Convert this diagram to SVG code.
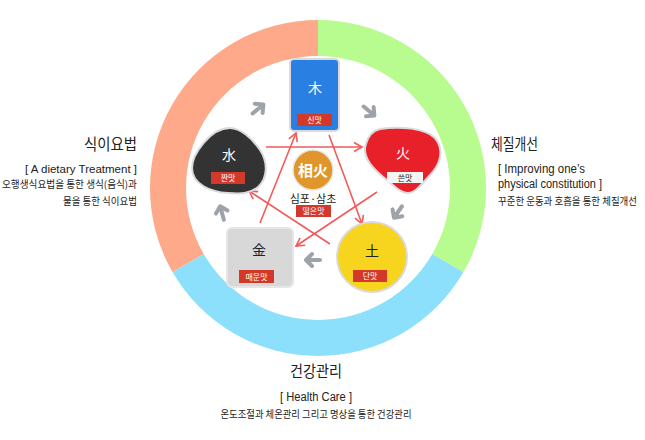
<svg xmlns="http://www.w3.org/2000/svg" width="645" height="440" viewBox="0 0 645 440">
<style>
.kr{font-family:"Noto Sans CJK KR","Liberation Sans",sans-serif;fill:#222}
.en{font-family:"Liberation Sans","Noto Sans CJK KR",sans-serif;fill:#222}
.nl{font-family:"Noto Sans CJK KR",sans-serif;font-size:14px;text-anchor:middle}
.tag{fill:#D2392B}
.tt{font-family:"Noto Sans CJK KR",sans-serif;font-size:8px;fill:#fff;text-anchor:middle}
.rl{stroke:#F25A5A;stroke-width:1.6;fill:none;marker-end:url(#rh)}
.ga{stroke:#9EA3AA;stroke-width:4;fill:none;stroke-linecap:round;stroke-linejoin:round}
.bd{stroke:#DADADA;stroke-width:2}
</style>
<defs>
<marker id="rh" markerWidth="12" markerHeight="12" refX="10" refY="6" orient="auto" markerUnits="userSpaceOnUse">
<polyline points="2,1.5 10,6 2,10.5" fill="none" stroke="#F25A5A" stroke-width="1.6"/>
</marker>
<path id="garr" d="M-7,0 L7,0 M1,-6 L7,0 L1,6"/>
</defs>
<rect width="645" height="440" fill="#fff"/>
<g id="ring">
<path d="M463.5,272 A168,168 0 0 1 172.5,272 L203.7,254 A132,132 0 0 0 432.3,254 Z" fill="#8CE0FB"/>
<path d="M172.5,272 A168,168 0 0 1 318,20 L318,56 A132,132 0 0 0 203.7,254 Z" fill="#FFA98B"/>
<path d="M318,20 A168,168 0 0 1 463.5,272 L432.3,254 A132,132 0 0 0 318,56 Z" fill="#B8FB8E"/>
</g>
<g id="connectors">
<line class="rl" x1="266" y1="147" x2="362" y2="147"/>
<line class="rl" x1="329" y1="135" x2="362" y2="224"/>
<line class="rl" x1="330" y1="244" x2="249" y2="191"/>
<line class="rl" x1="377" y1="192" x2="296" y2="246"/>
<line class="rl" x1="260" y1="223" x2="296" y2="133"/>
<use href="#garr" class="ga" transform="translate(258,109) rotate(-40)"/>
<use href="#garr" class="ga" transform="translate(369,111) rotate(40)"/>
<use href="#garr" class="ga" transform="translate(398,212) rotate(125)"/>
<use href="#garr" class="ga" transform="translate(313,260) rotate(180)"/>
<use href="#garr" class="ga" transform="translate(222,213) rotate(-105)"/>
</g>
<g id="wood">
<rect class="bd" x="290" y="59" width="49" height="72" rx="4" fill="#2A80E2"/>
<text class="nl" x="315" y="93" fill="#fff">木</text>
<rect class="tag" x="297" y="114" width="35" height="12"/>
<text class="tt" x="314.5" y="123">신맛</text>
</g>
<g id="fire">
<path class="bd" d="M380,129 C400,126 425,128 435,138 C445,150 440,165 430,175 C422,184 415,193 408,193 C400,193 392,184 382,176 C370,166 362,155 366,144 C368,136 372,131 380,129 Z" fill="#E8202A"/>
<text class="nl" x="403" y="158" fill="#fff">火</text>
<rect x="387" y="172" width="36" height="11" fill="#F4F4F4"/>
<text class="tt" x="405" y="180.5" style="fill:#222">쓴맛</text>
</g>
<g id="water">
<path class="bd" d="M230,128 C240,128 252,138 260,150 C268,162 268,178 258,187 C250,194 240,194 228,193 C212,192 192,185 192,168 C192,155 210,128 230,128 Z" fill="#333333"/>
<text class="nl" x="229" y="160" fill="#fff">水</text>
<rect class="tag" x="211" y="172" width="34" height="12"/>
<text class="tt" x="228" y="181">짠맛</text>
</g>
<g id="earth">
<circle class="bd" cx="372" cy="257" r="35" fill="#F7D41E"/>
<text class="nl" x="372" y="256" fill="#222">土</text>
<rect class="tag" x="353" y="270" width="34" height="12"/>
<text class="tt" x="370" y="279">단맛</text>
</g>
<g id="metal">
<rect x="227" y="228" width="66" height="59" rx="5" fill="#D8D8D8" stroke="#E6E6E6" stroke-width="2"/>
<text class="nl" x="259" y="255" fill="#222">金</text>
<rect class="tag" x="239" y="270" width="35" height="13"/>
<text class="tt" x="256.5" y="279.5">매운맛</text>
</g>
<g id="sanghwa">
<circle cx="313" cy="170" r="20" fill="#E0962A" stroke="#E6E6E6" stroke-width="1.5"/>
<text x="313" y="176" font-family="Noto Sans CJK KR,sans-serif" font-size="15" font-weight="bold" fill="#fff" text-anchor="middle">相火</text>
<text class="kr" x="313" y="203" font-size="11" text-anchor="middle">심포·삼초</text>
<rect class="tag" x="296" y="205" width="35" height="12"/>
<text class="tt" x="313.5" y="214">떫은맛</text>
</g>
<g id="label-diet">
<text class="kr" x="137" y="150" font-size="16" text-anchor="end" textLength="53" lengthAdjust="spacingAndGlyphs">식이요법</text>
<text class="en" x="137" y="173" font-size="11.5" text-anchor="end" textLength="112" lengthAdjust="spacingAndGlyphs">[ A dietary Treatment ]</text>
<text class="kr" x="137" y="188" font-size="10" text-anchor="end" textLength="135" lengthAdjust="spacingAndGlyphs">오행생식요법을 통한 생식(음식)과</text>
<text class="kr" x="137" y="205" font-size="10" text-anchor="end" textLength="74" lengthAdjust="spacingAndGlyphs">물을 통한 식이요법</text>
</g>
<g id="label-body">
<text class="kr" x="491" y="150" font-size="16" textLength="47" lengthAdjust="spacingAndGlyphs">체질개선</text>
<text class="en" x="498" y="173" font-size="12" textLength="87" lengthAdjust="spacingAndGlyphs">[ Improving one’s</text>
<text class="en" x="498" y="188" font-size="12" textLength="104" lengthAdjust="spacingAndGlyphs">physical constitution ]</text>
<text class="kr" x="498" y="205" font-size="10" textLength="139" lengthAdjust="spacingAndGlyphs">꾸준한 운동과 호흡을 통한 체질개선</text>
</g>
<g id="label-health">
<text class="kr" x="316" y="377" font-size="16" text-anchor="middle" textLength="52" lengthAdjust="spacingAndGlyphs">건강관리</text>
<text class="en" x="316" y="401" font-size="12" text-anchor="middle" textLength="72" lengthAdjust="spacingAndGlyphs">[ Health Care ]</text>
<text class="kr" x="316" y="418" font-size="10" text-anchor="middle" textLength="191" lengthAdjust="spacingAndGlyphs">온도조절과 체온관리 그리고 명상을 통한 건강관리</text>
</g>
</svg>
